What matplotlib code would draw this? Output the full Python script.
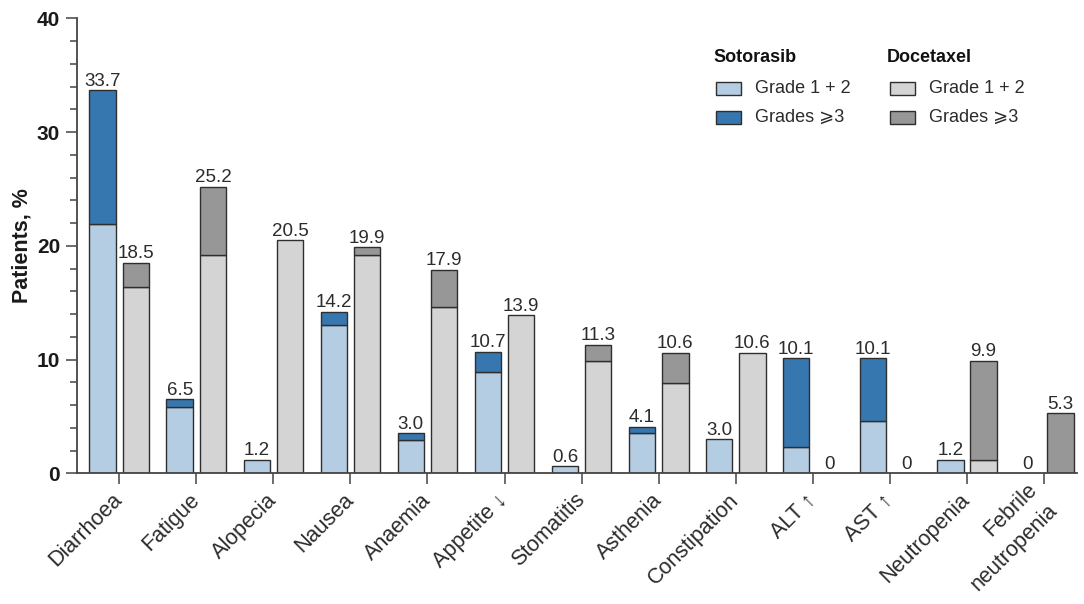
import matplotlib
matplotlib.use('Agg')
import matplotlib.pyplot as plt
from matplotlib.patches import Rectangle
from matplotlib.ticker import MultipleLocator

plt.rcParams['font.family'] = ['Liberation Sans', 'DejaVu Sans']

# data
categories = ['Diarrhoea', 'Fatigue', 'Alopecia', 'Nausea', 'Anaemia', 'Appetite \u2193',
              'Stomatitis', 'Asthenia', 'Constipation', 'ALT \u2191', 'AST \u2191',
              'Neutropenia', 'Febrile\nneutropenia']
soto_g12 = [21.9, 5.8, 1.2, 13.0, 2.9, 8.9, 0.6, 3.5, 3.0, 2.3, 4.6, 1.2, 0]
soto_g3 = [11.8, 0.7, 0, 1.2, 0.6, 1.8, 0, 0.6, 0, 7.8, 5.5, 0, 0]
doce_g12 = [16.4, 19.2, 20.5, 19.2, 14.6, 13.9, 9.9, 7.9, 10.6, 0, 0, 1.2, 0]
doce_g3 = [2.1, 6.0, 0, 0.7, 3.3, 0, 1.4, 2.7, 0, 0, 0, 8.7, 5.3]
soto_labels = ['33.7', '6.5', '1.2', '14.2', '3.0', '10.7', '0.6', '4.1', '3.0', '10.1', '10.1', '1.2', '0']
doce_labels = ['18.5', '25.2', '20.5', '19.9', '17.9', '13.9', '11.3', '10.6', '10.6', '0', '0', '9.9', '5.3']

col_soto_lo = '#b5cde3'
col_soto_hi = '#3777af'
col_doce_lo = '#d4d4d4'
col_doce_hi = '#979797'
edge = '#2e2e2e'
txt = '#2b2b2b'

W, H = 1084, 604
fig = plt.figure(figsize=(W / 100, H / 100), dpi=100)
ax = fig.add_axes([76.7 / W, 1 - 473.3 / H, (1077 - 76.7) / W, (473.3 - 18.3) / H])

off = 0.2155
bw = 0.345

def draw_bar(x, lo, hi, c_lo, c_hi, label):
    if lo > 0:
        ax.bar(x, lo, bw, color=c_lo, edgecolor=edge, linewidth=1.0, zorder=2)
    if hi > 0:
        ax.bar(x, hi, bw, bottom=lo, color=c_hi, edgecolor=edge, linewidth=1.0, zorder=2)
    ax.annotate(label, (x, lo + hi), xytext=(0, 0.3), textcoords='offset points',
                ha='center', va='bottom', fontsize=13.5, color=txt)

for i in range(len(categories)):
    draw_bar(i - off, soto_g12[i], soto_g3[i], col_soto_lo, col_soto_hi, soto_labels[i])
    draw_bar(i + off, doce_g12[i], doce_g3[i], col_doce_lo, col_doce_hi, doce_labels[i])

ax.set_xlim(-0.553, 12.43)
ax.set_ylim(0, 40)
ax.yaxis.set_major_locator(MultipleLocator(10))
ax.yaxis.set_minor_locator(MultipleLocator(2))
ax.set_xticks(range(len(categories)))
ax.set_xticklabels(categories, rotation=45, ha='right', va='center',
                   rotation_mode='anchor', fontsize=15.5, color=txt, linespacing=1.5)
ax.tick_params(axis='x', length=8, width=1.1, color='#444444', pad=9)
ax.tick_params(axis='y', which='major', length=8, width=1.1, color='#444444', pad=4)
ax.tick_params(axis='y', which='minor', length=5, width=1.1, color='#444444')
for lab in ax.get_yticklabels():
    lab.set_fontweight('bold')
    lab.set_fontsize(15)
    lab.set_color('#1a1a1a')
ax.set_ylabel('Patients, %', fontsize=15.5, fontweight='bold', color='#1a1a1a', labelpad=3)

for s in ['top', 'right']:
    ax.spines[s].set_visible(False)
for s in ['left', 'bottom']:
    ax.spines[s].set_linewidth(1.3)
    ax.spines[s].set_color('#444444')

# legend drawn by hand, in pixel coords of the figure
def px(x, y):
    return x / W, 1 - y / H

def legend_block(x0, title, c_lo, c_hi):
    fig.text(*px(x0, 58), title, fontsize=13, fontweight='bold', color='#111111', va='center')
    for yc, c, lab in [(88.7, c_lo, 'Grade 1 + 2'), (117.5, c_hi, 'Grades \u2a7e3')]:
        fx, fy = px(x0 + 3, yc + 6.3)
        fig.patches.append(Rectangle((fx, fy), 25 / W, 12.6 / H, transform=fig.transFigure,
                                     facecolor=c, edgecolor=edge, linewidth=1.0))
        fig.text(*px(x0 + 42, yc), lab, fontsize=13, color=txt, va='center')

legend_block(713, 'Sotorasib', col_soto_lo, col_soto_hi)
legend_block(886.7, 'Docetaxel', col_doce_lo, col_doce_hi)

fig.savefig('out.png', dpi=100)
